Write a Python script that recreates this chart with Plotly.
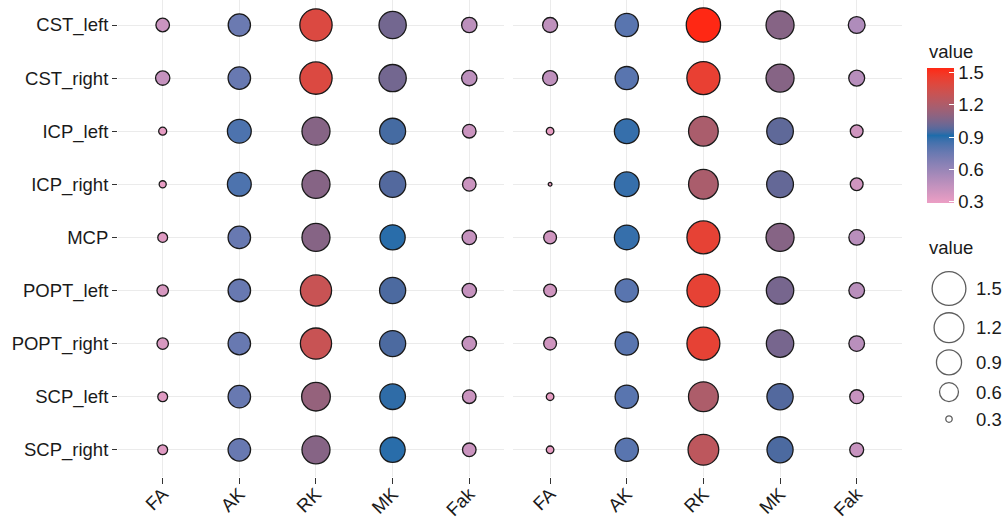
import math
import plotly.graph_objects as go

# ---------------- data ----------------
rows = ["CST_left", "CST_right", "ICP_left", "ICP_right", "MCP",
        "POPT_left", "POPT_right", "SCP_left", "SCP_right"]
cols = ["FA", "AK", "RK", "MK", "Fak"]

# left panel, one list per metric (values in row order)
left_FA  = [0.42, 0.44, 0.315, 0.305, 0.34, 0.37, 0.37, 0.34, 0.34]
left_AK  = [0.75, 0.76, 0.83, 0.83, 0.76, 0.76, 0.76, 0.76, 0.76]
left_RK  = [1.38, 1.38, 1.08, 1.08, 1.08, 1.30, 1.30, 1.12, 1.08]
left_MK  = [1.03, 1.03, 0.95, 0.97, 0.90, 0.96, 0.96, 0.93, 0.90]
left_Fak = [0.47, 0.47, 0.42, 0.42, 0.44, 0.44, 0.44, 0.42, 0.42]

# right panel
right_FA  = [0.46, 0.46, 0.31, 0.29, 0.40, 0.40, 0.40, 0.31, 0.31]
right_AK  = [0.80, 0.80, 0.88, 0.88, 0.88, 0.80, 0.80, 0.80, 0.80]
right_RK  = [1.54, 1.44, 1.19, 1.19, 1.43, 1.43, 1.43, 1.20, 1.26]
right_MK  = [1.08, 1.08, 0.99, 1.00, 1.08, 1.04, 1.04, 0.97, 0.96]
right_Fak = [0.52, 0.49, 0.40, 0.40, 0.48, 0.48, 0.48, 0.43, 0.43]

legend_breaks = [1.5, 1.2, 0.9, 0.6, 0.3]

left_cols = [left_FA, left_AK, left_RK, left_MK, left_Fak]
right_cols = [right_FA, right_AK, right_RK, right_MK, right_Fak]

all_vals = [v for c in left_cols + right_cols for v in c]
vmin, vmax = min(all_vals), max(all_vals)

# ---------------- scales ----------------
D_MIN, D_SPAN = 5.0, 30.6   # outer diameter range (px)
LINE_W = 1.3


def outer_diam(v):
    f = (v - vmin) / (vmax - vmin)
    f = max(f, 0.0)
    return D_MIN + D_SPAN * math.sqrt(f)


def marker_size(v):
    return outer_diam(v) - LINE_W


# colour gradient interpolated in Lab space (pink -> blue -> red)
def _lin(c):
    c = c / 255.0
    return c / 12.92 if c <= 0.04045 else ((c + 0.055) / 1.055) ** 2.4


def _gam(c):
    c = max(0.0, min(1.0, c))
    c = 12.92 * c if c <= 0.0031308 else 1.055 * c ** (1 / 2.4) - 0.055
    return int(round(c * 255))


def _f(t):
    return t ** (1 / 3) if t > 216 / 24389 else (24389 / 27 * t + 16) / 116


def _finv(t):
    return t ** 3 if t ** 3 > 216 / 24389 else (116 * t - 16) / (24389 / 27)


def rgb2lab(rgb):
    r, g, b = (_lin(x) for x in rgb)
    X = (0.4124 * r + 0.3576 * g + 0.1805 * b) / 0.95047
    Y = 0.2126 * r + 0.7152 * g + 0.0722 * b
    Z = (0.0193 * r + 0.1192 * g + 0.9505 * b) / 1.08883
    fx, fy, fz = _f(X), _f(Y), _f(Z)
    return (116 * fy - 16, 500 * (fx - fy), 200 * (fy - fz))


def lab2rgb(lab):
    L, a, bb = lab
    fy = (L + 16) / 116
    fx = fy + a / 500
    fz = fy - bb / 200
    X, Y, Z = _finv(fx) * 0.95047, _finv(fy), _finv(fz) * 1.08883
    r = 3.2406 * X - 1.5372 * Y - 0.4986 * Z
    g = -0.9689 * X + 1.8758 * Y + 0.0415 * Z
    b = 0.0557 * X - 0.2040 * Y + 1.0570 * Z
    return (_gam(r), _gam(g), _gam(b))


anchors = [(236, 158, 196), (30, 108, 170), (255, 40, 20)]
labs = [rgb2lab(c) for c in anchors]
colorscale = []
N = 40
for i in range(N + 1):
    t = i / N
    seg = min(int(t * 2), 1)
    u = t * 2 - seg
    l0, l1 = labs[seg], labs[seg + 1]
    lab = tuple(l0[k] + (l1[k] - l0[k]) * u for k in range(3))
    r, g, b = lab2rgb(lab)
    colorscale.append([t, f"rgb({r},{g},{b})"])

# ---------------- figure ----------------
W, H = 1007, 520
FONT = "Liberation Sans, Arial, sans-serif"
TXT = "#1a1a1a"
GRID = "#EBEBEB"

fig = go.Figure()

for panel_cols, xa, ya in [(left_cols, "x", "y"), (right_cols, "x2", "y2")]:
    xs, ys, vs = [], [], []
    for cname, cvals in zip(cols, panel_cols):
        for rname, v in zip(rows, cvals):
            xs.append(cname)
            ys.append(rname)
            vs.append(v)
    fig.add_trace(go.Scatter(
        x=xs, y=ys, mode="markers", xaxis=xa, yaxis=ya,
        marker=dict(size=[marker_size(v) for v in vs], color=vs,
                    coloraxis="coloraxis", opacity=1,
                    line=dict(color="#1a1a1a", width=LINE_W)),
        showlegend=False, hovertemplate="%{y} %{x}: %{marker.color}<extra></extra>"))

# size legend keys stacked from their sizes
key_h = [max(outer_diam(b) + 6, 27) for b in legend_breaks]
centers = []
acc = 0.0
for h in key_h:
    centers.append(acc + h / 2)
    acc += h

fig.add_trace(go.Scatter(
    x=[34] * len(legend_breaks), y=centers, mode="markers", xaxis="x3", yaxis="y3",
    marker=dict(size=[marker_size(b) for b in legend_breaks], color="white",
                line=dict(color="#1a1a1a", width=1.3)),
    showlegend=False, hoverinfo="skip"))

panel_top, panel_bot = 0, 477
row_y0, row_step = 25, 53.1
y_top_idx = (panel_top - row_y0) / row_step
y_bot_idx = (panel_bot - row_y0) / row_step
ydom = [(H - panel_bot) / H, 1 - panel_top / H]

common_x = dict(type="category", categoryorder="array", categoryarray=cols,
                showgrid=True, gridcolor=GRID, gridwidth=1.1, zeroline=False,
                showline=False, ticks="outside", ticklen=6, tickwidth=1.1,
                tickcolor="#333333", tickangle=-45, ticklabelstandoff=-8,
                tickfont=dict(family=FONT, size=18.5, color=TXT))
common_y = dict(type="category", categoryorder="array", categoryarray=rows,
                range=[y_bot_idx, y_top_idx], domain=ydom,
                showgrid=True, gridcolor=GRID, gridwidth=1.1, zeroline=False,
                showline=False)

fig.update_layout(
    width=W, height=H,
    margin=dict(l=0, r=0, t=0, b=0, autoexpand=False),
    paper_bgcolor="white", plot_bgcolor="white",
    font=dict(family=FONT, color=TXT),
    xaxis=dict(common_x, domain=[118 / W, 504 / W], range=[-0.583, 4.453], anchor="y"),
    yaxis=dict(common_y, anchor="x", ticks="outside", ticklen=5, tickwidth=1.1,
               tickcolor="#333333", tickfont=dict(family=FONT, size=18.5, color=TXT)),
    xaxis2=dict(common_x, domain=[513 / W, 902 / W], range=[-0.484, 4.591], anchor="y2"),
    yaxis2=dict(common_y, anchor="x2", showticklabels=False, ticks=""),
    xaxis3=dict(domain=[915 / W, 975 / W], range=[0, 60], visible=False,
                anchor="y3", fixedrange=True),
    yaxis3=dict(domain=[(H - 443) / H, (H - 268) / H], range=[175, 0], anchor="x3",
                side="right", tickmode="array", tickvals=centers,
                ticktext=[f"{b:.1f}" for b in legend_breaks],
                showgrid=False, zeroline=False, showline=False, ticks="",
                tickfont=dict(family=FONT, size=18.5, color=TXT), fixedrange=True),
    coloraxis=dict(
        colorscale=colorscale, cmin=vmin, cmax=vmax,
        colorbar=dict(
            x=927 / W, xanchor="left", y=(H - 135.5) / H, yanchor="middle",
            len=135, lenmode="pixels", thickness=27, thicknessmode="pixels",
            outlinewidth=0, ticks="inside", ticklen=5, tickwidth=1.2,
            tickcolor="white", tickmode="array",
            tickvals=legend_breaks, ticktext=[f"{b:.1f}" for b in legend_breaks],
            tickfont=dict(family=FONT, size=18.5, color=TXT),
            xpad=0, ypad=0, title=dict(text=""))),
    annotations=[
        dict(text="value", x=927 / W, y=(H - 52) / H, xref="paper", yref="paper",
             xanchor="left", yanchor="middle", showarrow=False,
             font=dict(family=FONT, size=18.5, color=TXT)),
        dict(text="value", x=927 / W, y=(H - 248) / H, xref="paper", yref="paper",
             xanchor="left", yanchor="middle", showarrow=False,
             font=dict(family=FONT, size=18.5, color=TXT)),
    ],
)

fig.write_html("out.html")
